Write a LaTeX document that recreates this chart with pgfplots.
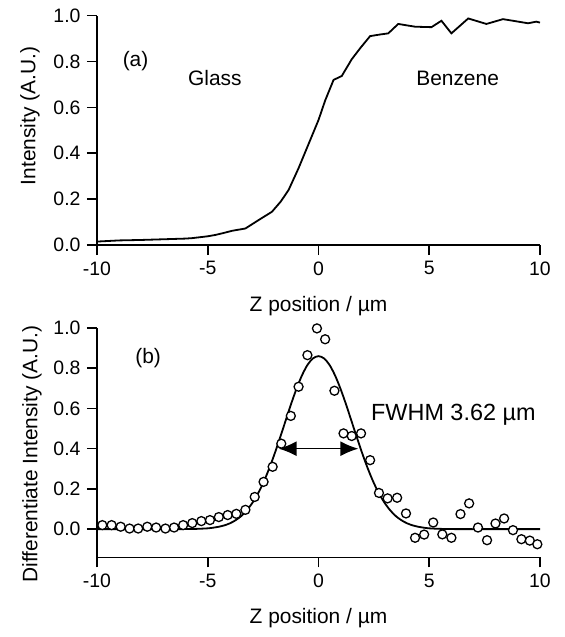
\documentclass[border=0pt]{standalone}
\usepackage{fontspec}
\setmainfont{Liberation Sans}
\usepackage{pgfplots}
\pgfplotsset{compat=1.18}
\usetikzlibrary{arrows.meta}

\pgfplotsset{
  panel/.style={
    scale only axis,
    width=443bp, height=229.3bp,
    axis lines=left,
    axis line style={-, line width=1.6bp},
    tick align=outside,
    major tick length=10bp,
    tick style={line width=1.6bp, black},
    xmin=-10, xmax=10,
    xtick={-10,-5,0,5,10},
    xticklabels={-10,-5,0,5,10},
    ytick={0,0.2,0.4,0.6,0.8,1.0},
    yticklabels={0.0,0.2,0.4,0.6,0.8,1.0},
    ticklabel style={font=\fontsize{19.5}{21}\selectfont},
    xticklabel style={yshift=-3bp},
    yticklabel style={xshift=-3bp},
    label style={font=\fontsize{21}{23}\selectfont},
    xlabel={Z position / µm},
    xlabel style={at={(ticklabel cs:0.5,14bp)}},
    clip=false,
  },
}

\begin{document}
\begin{tikzpicture}
\path[use as bounding box] (-97bp,-392bp) rectangle (468bp,245bp);

% (a) intensity profile
\begin{axis}[panel,
  at={(0bp,0bp)}, anchor=south west,
  ymin=0, ymax=1,
  ylabel={Intensity (A.U.)},
  ylabel style={at={(ticklabel cs:0.563,7bp)}},
]
\addplot[black, line width=1.8bp] coordinates {
(-10,0.015) (-9,0.02) (-8,0.022) (-7,0.025) (-6,0.028) (-5.7,0.03)
(-5,0.038) (-4.65,0.044) (-4.3,0.052) (-3.9,0.062) (-3.3,0.072)
(-2.7,0.109) (-2.1,0.145) (-1.7,0.19) (-1.35,0.24) (-0.9,0.335)
(-0.45,0.44) (0,0.545) (0.3,0.63) (0.68,0.72) (1.05,0.737) (1.5,0.81)
(1.88,0.858) (2.33,0.911) (2.78,0.918) (3.15,0.923) (3.6,0.964)
(4.36,0.952) (5.1,0.95) (5.55,0.978) (6.0,0.923) (6.76,0.988)
(7.58,0.964) (8.33,0.985) (9.46,0.967) (9.83,0.974) (10,0.97)
};
\node[font=\fontsize{21}{23}\selectfont] at (axis cs:-8.26,0.80) {(a)};
\node[font=\fontsize{21}{23}\selectfont] at (axis cs:-4.68,0.727) {Glass};
\node[font=\fontsize{21}{23}\selectfont] at (axis cs:6.28,0.727) {Benzene};
\end{axis}

% (b) derivative with Gaussian fit
\begin{axis}[panel,
  at={(0bp,-312.3bp)}, anchor=south west,
  ymin=-0.14, ymax=1,
  ylabel={Differentiate Intensity (A.U.)},
  ylabel style={at={(ticklabel cs:0.45,5bp)}},
]
\addplot[black, line width=1.8bp, smooth] coordinates {
(-10,0) (-8,0) (-6.5,0) (-6,0.0004) (-5.5,0.0014) (-5,0.004) (-4.75,0.0073)
(-4.5,0.012) (-4.25,0.0188) (-4,0.029) (-3.75,0.0439) (-3.5,0.064)
(-3.25,0.092) (-3,0.128) (-2.75,0.1736) (-2.5,0.229) (-2.25,0.2946)
(-2,0.369) (-1.75,0.450) (-1.5,0.534) (-1.25,0.618) (-1,0.696)
(-0.75,0.7635) (-0.5,0.816) (-0.25,0.849) (0,0.86)
(0.25,0.849) (0.5,0.816) (0.75,0.7635) (1,0.696) (1.25,0.618)
(1.5,0.534) (1.75,0.450) (2,0.369) (2.25,0.2946) (2.5,0.229)
(2.75,0.1736) (3,0.128) (3.25,0.092) (3.5,0.064) (3.75,0.0439)
(4,0.029) (4.25,0.0188) (4.5,0.012) (4.75,0.0073) (5,0.004)
(5.5,0.0014) (6,0.0004) (6.5,0) (8,0) (10,0)
};
\addplot[only marks, mark=*, mark size=4.5bp,
  mark options={fill=white, draw=black, line width=1.3bp}] coordinates {
(-9.76,0.02) (-9.34,0.02) (-8.93,0.012) (-8.53,0.003) (-8.14,0.003)
(-7.73,0.012) (-7.33,0.008) (-6.91,0.003) (-6.52,0.008) (-6.11,0.02)
(-5.7,0.03) (-5.29,0.04) (-4.9,0.045) (-4.5,0.06) (-4.1,0.07)
(-3.71,0.076) (-3.3,0.096) (-2.88,0.16) (-2.48,0.235) (-2.07,0.31)
(-1.68,0.425) (-1.25,0.563) (-0.9,0.708) (-0.5,0.865) (-0.07,0.998)
(0.3,0.944) (0.72,0.688) (1.13,0.476) (1.5,0.463) (1.92,0.476)
(2.33,0.343) (2.73,0.18) (3.12,0.153) (3.55,0.156) (3.95,0.078)
(4.36,-0.043) (4.77,-0.027) (5.18,0.033) (5.59,-0.026) (6.0,-0.043)
(6.41,0.075) (6.8,0.128) (7.2,0.008) (7.61,-0.055) (7.99,0.028)
(8.38,0.053) (8.78,-0.005) (9.16,-0.05) (9.54,-0.057) (9.88,-0.075)
};
\draw[{Latex[length=18bp,width=15bp]}-{Latex[length=18bp,width=15bp]}, line width=1.4bp]
  (axis cs:-1.8,0.40) -- (axis cs:1.8,0.40);
\node[font=\fontsize{21}{23}\selectfont] at (axis cs:-7.69,0.85) {(b)};
\node[font=\fontsize{23.5}{25}\selectfont, anchor=west, inner sep=0pt] at (axis cs:2.37,0.567) {FWHM 3.62 µm};
\end{axis}
\end{tikzpicture}
\end{document}
